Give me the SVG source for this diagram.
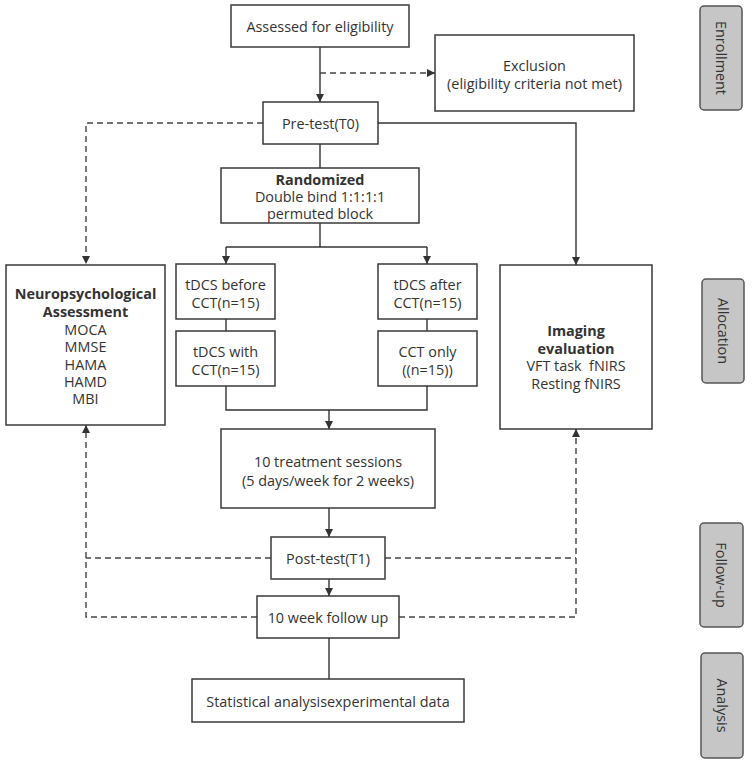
<svg xmlns="http://www.w3.org/2000/svg" width="752" height="767" viewBox="0 0 752 767">
<defs>
<marker id="ah" viewBox="0 0 10 10" refX="10" refY="5" markerWidth="8" markerHeight="8" markerUnits="userSpaceOnUse" orient="auto"><path d="M0,0 L10,5 L0,10 z" fill="#333"/></marker>
</defs>
<style>
.box{fill:#fff;stroke:#3a3a3a;stroke-width:1.5}
.side{fill:#c6c6c6;stroke:#555;stroke-width:1.5}
text{font-family:"Open Sans","Noto Sans","DejaVu Sans",sans-serif;font-size:14.4px;fill:#333;text-anchor:middle;dominant-baseline:central}
.b{font-weight:bold}
.ln{fill:none;stroke:#333;stroke-width:1.4}
.dash{fill:none;stroke:#444;stroke-width:1.4;stroke-dasharray:6,4}
</style>
<rect width="752" height="767" fill="#fff"/>
<g id="connectors">
<path class="ln" d="M320,47 V102" marker-end="url(#ah)"/>
<path class="dash" d="M320,73 H435" marker-end="url(#ah)"/>
<path class="dash" d="M263,123 H86 V264" marker-end="url(#ah)"/>
<path class="ln" d="M378,123 H576 V265" marker-end="url(#ah)"/>
<path class="ln" d="M320,144 V168"/>
<path class="ln" d="M320,223 V247"/>
<path class="ln" d="M226,247 H427"/>
<path class="ln" d="M226,247 V264" marker-end="url(#ah)"/>
<path class="ln" d="M427,247 V264" marker-end="url(#ah)"/>
<path class="ln" d="M226,319 V331"/>
<path class="ln" d="M427,319 V331"/>
<path class="ln" d="M226,386 V410 H427 V386"/>
<path class="ln" d="M329,410 V429" marker-end="url(#ah)"/>
<path class="ln" d="M329,508 V537" marker-end="url(#ah)"/>
<path class="ln" d="M329,579 V596" marker-end="url(#ah)"/>
<path class="ln" d="M329,638 V679"/>
<path class="dash" d="M271,558 H86"/>
<path class="dash" d="M257,617 H86 V425" marker-end="url(#ah)"/>
<path class="dash" d="M385,558 H576"/>
<path class="dash" d="M399,617 H576 V429" marker-end="url(#ah)"/>
</g>
<g id="assessed"><rect class="box" x="231" y="5" width="178" height="42"/><text x="320" y="26">Assessed for eligibility</text></g>
<g id="exclusion"><rect class="box" x="435" y="35" width="199" height="76"/><text x="534.5" y="65">Exclusion</text><text x="534.5" y="83">(eligibility criteria not met)</text></g>
<g id="pretest"><rect class="box" x="263" y="102" width="115" height="42"/><text x="320.5" y="123">Pre-test(T0)</text></g>
<g id="randomized"><rect class="box" x="221" y="168" width="198" height="55"/><text class="b" x="320" y="179">Randomized</text><text x="320" y="196">Double bind 1:1:1:1</text><text x="320" y="213">permuted block</text></g>
<g id="neuro"><rect class="box" x="6" y="265" width="159" height="160"/><text class="b" x="85.5" y="293">Neuropsychological</text><text class="b" x="85.5" y="311">Assessment</text><text x="85.5" y="329">MOCA</text><text x="85.5" y="346.5">MMSE</text><text x="85.5" y="364">HAMA</text><text x="85.5" y="381">HAMD</text><text x="85.5" y="398">MBI</text></g>
<g id="tdcs-before"><rect class="box" x="176" y="264" width="99" height="55"/><text x="225.5" y="284">tDCS before</text><text x="225.5" y="302">CCT(n=15)</text></g>
<g id="tdcs-with"><rect class="box" x="176" y="331" width="99" height="55"/><text x="225.5" y="351">tDCS with</text><text x="225.5" y="369">CCT(n=15)</text></g>
<g id="tdcs-after"><rect class="box" x="378" y="264" width="99" height="55"/><text x="427.5" y="284">tDCS after</text><text x="427.5" y="302">CCT(n=15)</text></g>
<g id="cct-only"><rect class="box" x="378" y="331" width="99" height="55"/><text x="427.5" y="351">CCT only</text><text x="427.5" y="369">((n=15))</text></g>
<g id="imaging"><rect class="box" x="500" y="265" width="152" height="164"/><text class="b" x="576" y="330">Imaging</text><text class="b" x="576" y="348">evaluation</text><text x="576" y="365" xml:space="preserve">VFT task  fNIRS</text><text x="576" y="383">Resting fNIRS</text></g>
<g id="treatment"><rect class="box" x="221" y="429" width="214" height="79"/><text x="328" y="461">10 treatment sessions</text><text x="328" y="480">(5 days/week for 2 weeks)</text></g>
<g id="posttest"><rect class="box" x="271" y="537" width="114" height="42"/><text x="328" y="558">Post-test(T1)</text></g>
<g id="followup"><rect class="box" x="257" y="596" width="142" height="42"/><text x="328" y="617">10 week follow up</text></g>
<g id="statistical"><rect class="box" x="192" y="679" width="272" height="43"/><text x="328" y="701">Statistical analysisexperimental data</text></g>
<g id="label-enrollment"><rect class="side" x="700" y="6" width="42" height="104" rx="4"/><text transform="translate(721,58) rotate(90)">Enrollment</text></g>
<g id="label-allocation"><rect class="side" x="702" y="279" width="42" height="104" rx="4"/><text transform="translate(723,331) rotate(90)">Allocation</text></g>
<g id="label-followup"><rect class="side" x="700" y="523" width="43" height="104" rx="4"/><text transform="translate(721.5,575) rotate(90)">Follow-up</text></g>
<g id="label-analysis"><rect class="side" x="701" y="653" width="42" height="105" rx="4"/><text transform="translate(722,705.5) rotate(90)">Analysis</text></g>
</svg>
